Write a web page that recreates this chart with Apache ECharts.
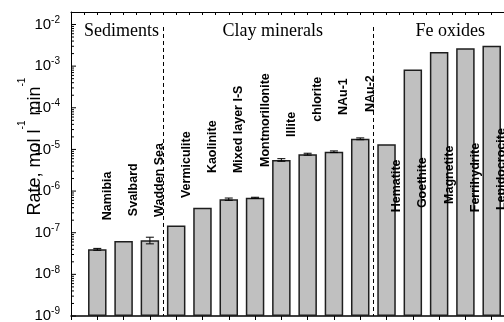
<!DOCTYPE html>
<html><head><meta charset="utf-8">
<script src="https://cdn.jsdelivr.net/npm/echarts@6/dist/echarts.min.js"></script>
<style>html,body{margin:0;padding:0;background:#fff}#c{width:504px;height:322px}</style>
</head><body><div id="c"></div>
<script>
const categories = ['Namibia','Svalbard','Wadden Sea','Vermiculite','Kaolinite','Mixed layer I-S','Montmorillonite','Illite','chlorite','NAu-1','NAu-2','Hematite','Goethite','Magnetite','Ferrihydrite','Lepidocrocite'];
const rates = [4.0e-8, 6.3e-8, 6.6e-8, 1.5e-7, 4.0e-7, 6.4e-7, 6.9e-7, 5.6e-6, 7.7e-6, 8.8e-6, 1.8e-5, 1.33e-5, 8.3e-4, 2.2e-3, 2.7e-3, 3.1e-3];
const errors = [2e-9, 0, 1.2e-8, 0, 0, 4e-8, 2e-8, 4e-7, 4e-7, 4e-7, 9e-7, 0, 0, 0, 0, 0];
const labelAnchors = [2.0e-7, 2.5e-7, 2.4e-7, 6.8e-7, 2.7e-6, 2.7e-6, 3.8e-6, 2.0e-5, 4.6e-5, 6.7e-5, 7.9e-5, 3.1e-7, 3.9e-7, 4.9e-7, 3.1e-7, 3.5e-7];
const groups = ['Sediments','Clay minerals','Fe oxides'];
const groupBreaks = [3.5, 11.5];
const yTickExponents = [-9,-8,-7,-6,-5,-4,-3,-2];
const yAxisTitle = ['Rate, mol l', '-1', ' min', '-1'];

const BASE = -9;            // lowest decade on the axis (10^-9)
const L = v => Math.log10(v) - BASE;
const X_MAX = categories.length + 1;
const Y_MAX = 7.3;

const barData = rates.map((v, i) => [i + 1, L(v)]);
const errData = [];
errors.forEach((e, i) => { if (e > 0) errData.push([i + 1, L(rates[i] - e), L(rates[i] + e)]); });
const labelData = labelAnchors.map((v, i) => [i + 1, L(v)]);
const minorData = [];
yTickExponents.forEach(ex => {
  minorData.push([0, ex - BASE, 1]);
  for (let k = 2; k <= 9; k++) {
    const y = ex - BASE + Math.log10(k);
    if (y <= Y_MAX) minorData.push([0, y, 0]);
  }
});
const spans = [0, ...groupBreaks, X_MAX];
const groupData = groups.map((g, i) => [(spans[i] + spans[i + 1]) / 2 + 0.17, 6.835]);

const chart = echarts.init(document.getElementById('c'), null, {renderer: 'canvas'});
chart.setOption({
  animation: false,
  grid: {left: 71, right: -14, top: 12, bottom: 6, containLabel: false, outerBoundsMode: 'none'},
  xAxis: [
    {type: 'value', position: 'bottom', min: 0, max: X_MAX, interval: 1,
     axisLine: {show: true, onZero: false, lineStyle: {color: '#000', width: 1.5}},
     axisTick: {show: true, inside: false, length: 4, lineStyle: {color: '#000', width: 1}},
     axisLabel: {show: false}, splitLine: {show: false}},
    {type: 'value', position: 'top', min: 0, max: X_MAX, interval: 0.5,
     axisLine: {show: true, onZero: false, lineStyle: {color: '#000', width: 1}},
     axisTick: {show: true, inside: true, length: 3, lineStyle: {color: '#000', width: 1}},
     axisLabel: {show: false}, splitLine: {show: false}}
  ],
  yAxis: {
    type: 'value', min: 0, max: Y_MAX, interval: 1,
    axisLine: {show: true, onZero: false, lineStyle: {color: '#000', width: 1}},
    axisTick: {show: false},
    splitLine: {show: false},
    axisLabel: {
      margin: 11, color: '#000',
      formatter: v => (Math.abs(v - Math.round(v)) < 1e-6 ? '{b|10}{s|' + (Math.round(v) + BASE) + '}' : ''),
      rich: {
        b: {fontSize: 15, fontFamily: 'Liberation Sans', color: '#000'},
        s: {fontSize: 10, fontFamily: 'Liberation Sans', color: '#000', padding: [0, 0, 9, 0]}
      }
    },
    name: '{m|' + yAxisTitle[0] + '}{s|' + yAxisTitle[1] + '}{m|' + yAxisTitle[2] + '}{s|' + yAxisTitle[3] + '}',
    nameLocation: 'middle', nameRotate: 90, nameGap: 18, nameMoveOverlap: false,
    nameTextStyle: {
      padding: [0, 0, 0, 35],
      rich: {
        m: {fontSize: 18, fontFamily: 'Liberation Sans', color: '#000'},
        s: {fontSize: 10, fontFamily: 'Liberation Sans', color: '#000', padding: [0, 0, 26, 0]}
      }
    }
  },
  series: [
    {type: 'bar', data: barData, barWidth: 18.5, xAxisIndex: 0,
     itemStyle: {color: '#c0c0c0', borderColor: '#1e1e1e', borderWidth: 1.5},
     markLine: {silent: true, symbol: ['none', 'none'], label: {show: false},
       lineStyle: {color: '#000', type: [4, 3], width: 1},
       data: groupBreaks.map(b => [{coord: [b, 6.94]}, {coord: [b, 0]}])}},
    {type: 'custom', data: errData, xAxisIndex: 0, z: 5,
     renderItem: (params, api) => {
       const x = api.value(0);
       const a = api.coord([x, api.value(2)]), b = api.coord([x, api.value(1)]);
       const st = {stroke: '#000', lineWidth: 1};
       return {type: 'group', children: [
         {type: 'line', shape: {x1: a[0], y1: a[1], x2: b[0], y2: b[1]}, style: st},
         {type: 'line', shape: {x1: a[0] - 4, y1: a[1], x2: a[0] + 4, y2: a[1]}, style: st},
         {type: 'line', shape: {x1: b[0] - 4, y1: b[1], x2: b[0] + 4, y2: b[1]}, style: st}
       ]};
     }},
    {type: 'custom', data: labelData, xAxisIndex: 0, z: 6,
     renderItem: (params, api) => {
       const p = api.coord([api.value(0) + 0.38, api.value(1)]);
       return {type: 'text', x: p[0], y: p[1], rotation: Math.PI / 2,
         style: {text: categories[params.dataIndex], font: 'bold 12.5px "Liberation Sans"', fill: '#000', align: 'left', verticalAlign: 'middle'}};
     }},
    {type: 'custom', data: minorData, xAxisIndex: 0, z: 6, clip: false,
     renderItem: (params, api) => {
       const p = api.coord([api.value(0), api.value(1)]);
       const len = api.value(2) ? 5 : 3;
       return {type: 'line', shape: {x1: p[0], y1: p[1], x2: p[0] + len, y2: p[1]}, style: {stroke: '#000', lineWidth: 1}};
     }},
    {type: 'custom', data: groupData, xAxisIndex: 0, z: 6,
     renderItem: (params, api) => {
       const p = api.coord([api.value(0), api.value(1)]);
       return {type: 'text', x: p[0], y: p[1],
         style: {text: groups[params.dataIndex], font: '18px "Liberation Serif"', fill: '#000', align: 'center', verticalAlign: 'middle'}};
     }}
  ]
});
</script></body></html>
